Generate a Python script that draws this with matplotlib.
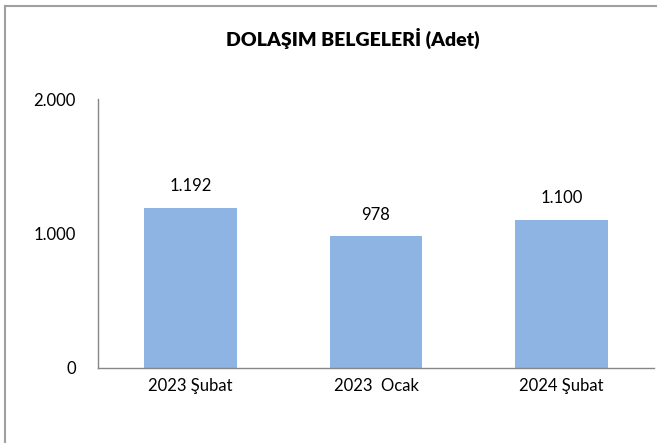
import matplotlib.pyplot as plt
from matplotlib.lines import Line2D
from matplotlib.ticker import FuncFormatter

categories = ['2023 Şubat', '2023  Ocak', '2024 Şubat']
values = [1192, 978, 1100]
value_labels = ['1.192', '978', '1.100']
yticks = [0, 1000, 2000]

plt.rcParams['font.family'] = ['Lato', 'DejaVu Sans']

W, H = 657, 443
fig = plt.figure(figsize=(W / 100, H / 100), dpi=100)
ax = fig.add_axes([98 / W, 1 - 368 / H, (654 - 98) / W, (368 - 99) / H])

x = range(len(categories))
ax.bar(x, values, width=0.5, color='#8EB4E3')
for i, v in enumerate(values):
    ax.annotate(value_labels[i], (i, v), xytext=(0, 10), textcoords='offset points',
                ha='center', va='bottom', fontsize=12)

ax.set_xlim(-0.5, len(categories) - 0.5)
ax.set_ylim(0, 2000)
ax.set_yticks(yticks)
ax.yaxis.set_major_formatter(FuncFormatter(lambda v, p: '{:,.0f}'.format(v).replace(',', '.')))
ax.set_xticks(list(x))
ax.set_xticklabels(categories)
ax.tick_params(length=0, labelsize=12, colors='black')
ax.tick_params(axis='y', pad=16)
ax.tick_params(axis='x', pad=7)
for s in ['top', 'right']:
    ax.spines[s].set_visible(False)
for s in ['left', 'bottom']:
    ax.spines[s].set_color('#868686')
    ax.spines[s].set_linewidth(1)

fig.text(353 / W, 1 - 38 / H, 'DOLAŞIM BELGELERİ (Adet)', ha='center', va='center',
         fontsize=14, fontweight='heavy')

# outer chart border (only left and top visible in the crop)
fig.add_artist(Line2D([5 / W, 5 / W], [0, 1 - 6 / H], transform=fig.transFigure,
                      color='#A0A0A0', linewidth=1.5))
fig.add_artist(Line2D([5 / W, 1], [1 - 6 / H, 1 - 6 / H], transform=fig.transFigure,
                      color='#A0A0A0', linewidth=1.5))

plt.savefig('out.png', dpi=100)
